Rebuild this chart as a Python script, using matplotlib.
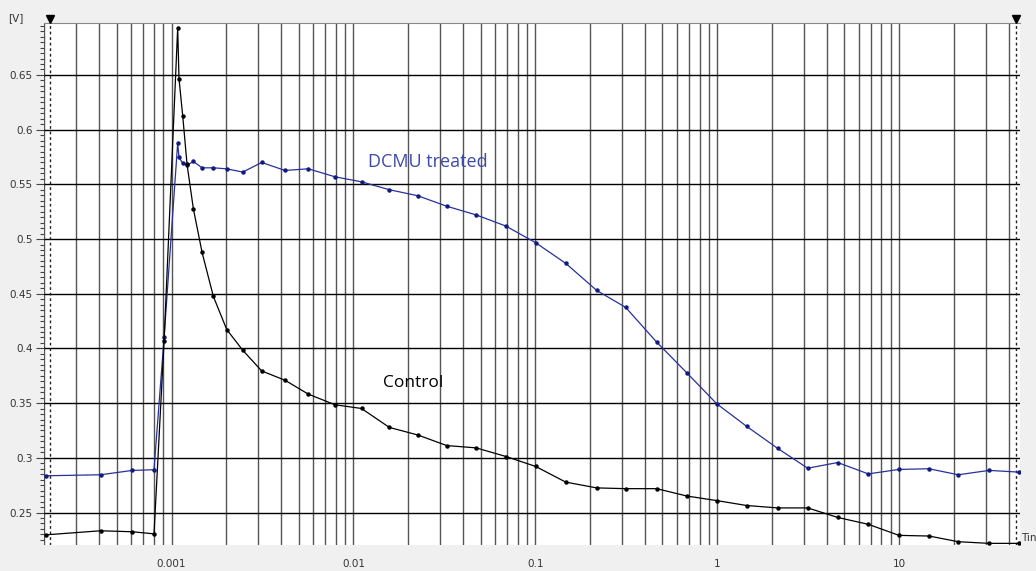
import numpy as np
import matplotlib
matplotlib.use("Agg")
import matplotlib.pyplot as plt
from matplotlib.ticker import FixedLocator, NullFormatter, MultipleLocator

# ---- data ----
time_s = [2.04e-4, 4.07e-4, 6.10e-4, 8.01e-4, 9.10e-4,
          1.081e-3, 1.099e-3, 1.152e-3, 1.217e-3, 1.318e-3, 1.472e-3, 1.698e-3,
          2.011e-3, 2.462e-3, 3.132e-3, 4.207e-3, 5.65e-3, 7.92e-3,
          0.01108, 0.01575, 0.02257, 0.03258, 0.04721, 0.06902,
          0.1005, 0.1469, 0.2176, 0.3140, 0.4650, 0.6796,
          0.9938, 1.453, 2.146, 3.145, 4.598, 6.772,
          9.99, 14.60, 21.16, 31.21, 45.80]

control = [0.2296, 0.2333, 0.2324, 0.2305, 0.4066,
           0.6930, 0.6466, 0.6127, 0.5682, 0.5278, 0.4878, 0.4475,
           0.4173, 0.3984, 0.3794, 0.3709, 0.3582, 0.3485,
           0.3451, 0.3278, 0.3209, 0.3112, 0.3091, 0.3012,
           0.2921, 0.2778, 0.2725, 0.2718, 0.2718, 0.2651,
           0.2609, 0.2564, 0.2542, 0.2542, 0.2455, 0.2392,
           0.2291, 0.2285, 0.2233, 0.2218, 0.2218]

dcmu = [0.2836, 0.2845, 0.2885, 0.2891, 0.4100,
        0.5878, 0.5748, 0.5693, 0.5675, 0.5709, 0.5651, 0.5651,
        0.5642, 0.5612, 0.5700, 0.5627, 0.5642, 0.5569,
        0.5523, 0.5451, 0.5396, 0.5300, 0.5221, 0.5118,
        0.4966, 0.4778, 0.4530, 0.4375, 0.4057, 0.3778,
        0.3494, 0.3287, 0.3087, 0.2905, 0.2957, 0.2853,
        0.2894, 0.2900, 0.2845, 0.2885, 0.2869]

x_tick_values = [0.001, 0.01, 0.1, 1, 10]
x_tick_labels = ["0.001", "0.01", "0.1", "1", "10"]
y_tick_values = [0.25, 0.30, 0.35, 0.40, 0.45, 0.50, 0.55, 0.60, 0.65]
y_tick_labels = ["0.25", "0.3", "0.35", "0.4", "0.45", "0.5", "0.55", "0.6", "0.65"]
cursor_times = [2.15e-4, 44.0]

# ---- figure ----
fig = plt.figure(figsize=(10.36, 5.71), dpi=100, facecolor="#f0f0f0")
ax = fig.add_axes([44 / 1036, 26 / 571, 976 / 1036, 522 / 571])
ax.set_facecolor("white")
ax.set_xscale("log")
ax.set_xlim(1.99e-4, 46.2)
ax.set_ylim(0.2203, 0.6975)

# grid lines
for k in range(-4, 2):
    for m in range(1, 10):
        v = m * 10.0 ** k
        if 1.99e-4 < v < 46.2:
            ax.axvline(v, color="#555555", lw=1.0, zorder=1)
for yv in [0.25, 0.30, 0.35, 0.40, 0.45, 0.50, 0.55, 0.60, 0.65, 0.70]:
    ax.axhline(yv, color="black", lw=1.0, zorder=1)

# cursors
for ct in cursor_times:
    ax.axvline(ct, color="#222222", lw=1.0, ls=(0, (2, 2)), zorder=2)
    ax.plot([ct], [1.008], marker="v", color="black", markersize=6,
            transform=ax.get_xaxis_transform(), clip_on=False, zorder=5)

# series
ax.plot(time_s, dcmu, color="#28309a", lw=0.9, marker="o", markersize=2.2,
        markerfacecolor="#101a80", markeredgecolor="#101a80", zorder=4)
ax.plot(time_s, control, color="black", lw=0.9, marker="o", markersize=2.2,
        zorder=4)

# annotations
ax.text(0.0257, 0.570, "DCMU treated", color="#3d4aa8", fontsize=13,
        family="Open Sans", ha="center", va="center", zorder=6)
ax.text(0.0213, 0.3685, "Control", color="black", fontsize=12.5,
        family="Open Sans", ha="center", va="center", zorder=6)

# axes styling
for s in ["left", "right", "bottom"]:
    ax.spines[s].set_visible(False)
ax.spines["top"].set_color("#888888")

ax.xaxis.set_major_locator(FixedLocator(x_tick_values))
ax.set_xticklabels(x_tick_labels)
ax.xaxis.set_minor_locator(FixedLocator([]))
ax.xaxis.set_minor_formatter(NullFormatter())
ax.tick_params(axis="x", which="both", length=0, pad=10, labelsize=7.5,
               labelcolor="#333333")

ax.yaxis.set_major_locator(FixedLocator(y_tick_values))
ax.set_yticklabels(y_tick_labels)
ax.yaxis.set_minor_locator(MultipleLocator(0.005))
ax.tick_params(axis="y", which="major", length=6, width=0.8, color="#444444",
               labelsize=7.5, labelcolor="#333333", pad=2)
ax.tick_params(axis="y", which="minor", length=3, width=0.8, color="#444444")

fig.text(8 / 1036, 1 - 18 / 571, "[V]", fontsize=7.5, color="#333333",
         va="center", ha="left")
fig.text(1021 / 1036, 1 - 538 / 571, "Tin", fontsize=7.5, color="#333333",
         va="center", ha="left")

fig.savefig("out.png", dpi=100, facecolor=fig.get_facecolor())
